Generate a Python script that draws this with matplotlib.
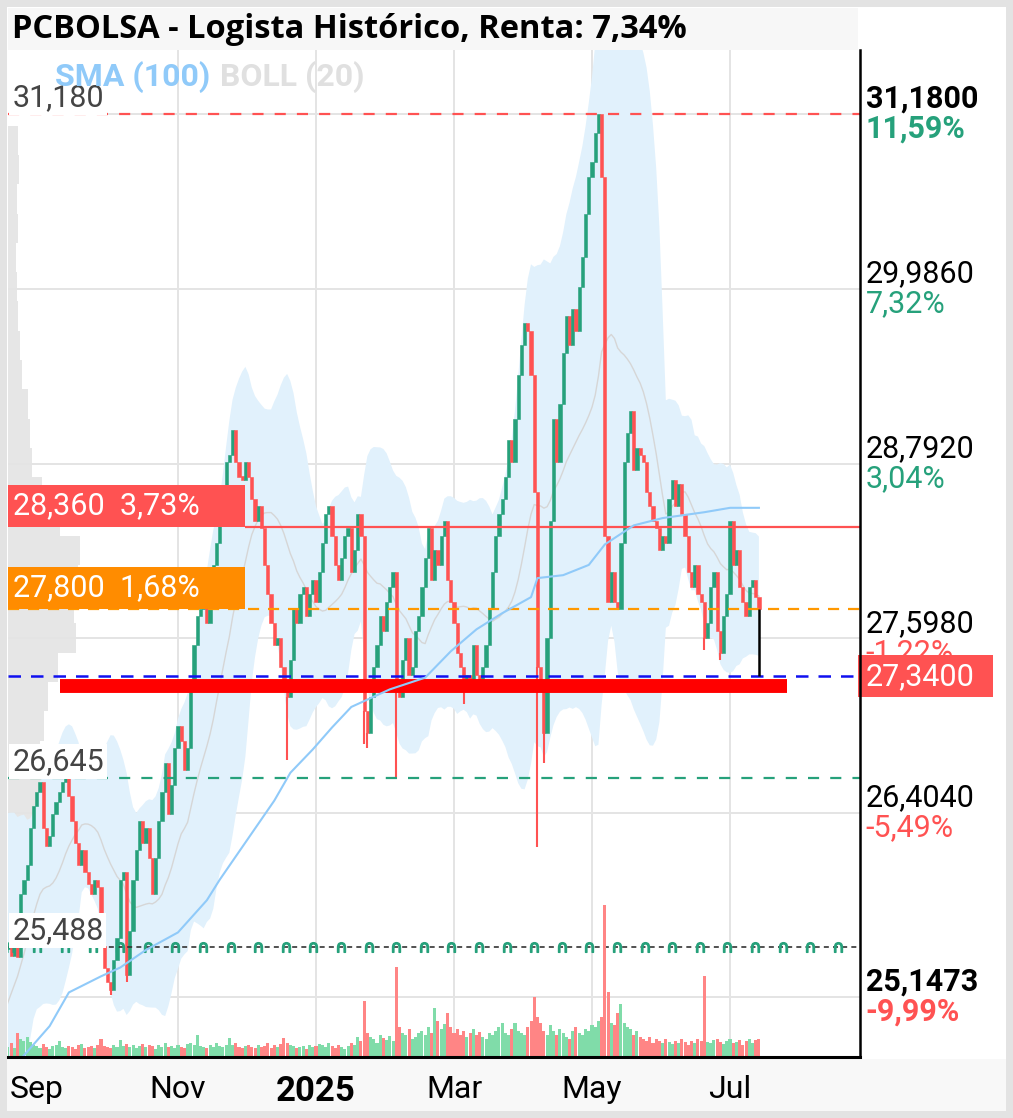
import numpy as np
import pandas as pd
import matplotlib
matplotlib.use("Agg")
import matplotlib.pyplot as plt
from matplotlib.patches import Rectangle
from matplotlib.transforms import blended_transform_factory

plt.rcParams["font.family"] = ["Roboto", "DejaVu Sans"]

W, H = 1013, 1118

title = "PCBOLSA - Logista Histórico, Renta: 7,34%"
start_day = "2024-08-19"

# daily closes (Aug 19 2024 -> Jul 14 2025)
closes = [
    25.48, 25.52, 25.43, 25.50, 25.42, 25.85, 25.95, 26.05, 26.30, 26.45,
    26.55, 26.62, 26.30, 26.18, 26.25, 26.40, 26.48, 26.55, 26.62, 26.65,
    26.52, 26.35, 26.20, 26.05, 26.15, 26.00, 25.92, 25.85, 25.95, 25.90,
    25.50, 25.35, 25.25, 25.20, 25.40, 25.55, 25.95, 26.00, 25.30, 25.60,
    25.95, 26.15, 26.35, 26.20, 26.30, 26.10, 25.85, 26.10, 26.35, 26.55,
    26.75, 26.40, 26.60, 26.85, 27.00, 26.90, 26.70, 26.85, 27.30, 27.55,
    27.75, 27.80, 27.85, 27.70, 27.95, 28.10, 28.25, 28.40, 28.60, 28.80,
    28.85, 29.02, 28.80, 28.70, 28.68, 28.80, 28.70, 28.55, 28.40, 28.50,
    28.35, 28.10, 27.90, 27.70, 27.55, 27.60, 27.40, 27.30, 27.20, 27.45,
    27.80, 27.70, 27.90, 27.95, 27.75, 27.90, 28.00, 27.85, 28.05, 28.25,
    28.45, 28.50, 28.30, 28.10, 28.00, 28.15, 28.30, 28.35, 28.05, 28.20,
    28.45, 28.30, 27.10, 26.95, 27.20, 27.40, 27.55, 27.75, 27.65, 27.85,
    27.95, 28.05, 27.30, 27.20, 27.45, 27.60, 27.35, 27.40, 27.65, 27.75,
    27.95, 28.15, 28.35, 28.00, 28.20, 28.10, 28.30, 28.40, 28.00, 27.85,
    27.70, 27.50, 27.40, 27.25, 27.35, 27.30, 27.55, 27.35, 27.25, 27.40,
    27.55, 27.80, 28.05, 28.30, 28.45, 28.55, 28.70, 28.95, 28.80, 29.10,
    29.40, 29.60, 29.75, 29.70, 29.40, 28.60, 27.40, 27.30, 26.95, 27.60,
    28.40, 29.10, 28.80, 29.20, 29.55, 29.80, 29.60, 29.85, 29.70, 30.00,
    30.20, 30.50, 30.75, 30.85, 31.05, 31.18, 30.75, 28.30, 27.85, 28.05,
    27.85, 27.80, 28.25, 28.80, 29.00, 29.15, 28.75, 28.90, 28.85, 28.80,
    28.60, 28.50, 28.40, 28.35, 28.20, 28.30, 28.25, 28.55, 28.68, 28.50,
    28.65, 28.45, 28.30, 28.05, 27.95, 28.10, 27.90, 27.85, 27.60, 27.70,
    27.95, 28.05, 27.65, 27.50, 27.75, 27.90, 28.40, 28.10, 28.20, 27.95,
    27.85, 27.75, 27.95, 28.00, 27.88, 27.80,
]
# closes before the visible window (only feed the 20 day bands)
prior_closes = [24.20, 24.25, 24.30, 24.25, 24.35, 24.40, 24.30, 24.50, 24.70, 25.00,
                25.30, 25.60, 25.90, 26.10, 26.00, 25.80, 25.60, 25.50, 25.40]
# long lower shadows
low_wicks = {33: 25.16, 38: 25.25, 88: 26.77, 112: 26.88, 113: 26.85, 122: 26.64,
             143: 27.15, 166: 26.17, 168: 26.75, 218: 27.52, 223: 27.45}

# volume, tens of thousands of shares
volumes = [
    12, 10, 14, 9, 24, 18, 16, 20, 15, 12,
    11, 9, 13, 10, 8, 11, 12, 16, 10, 9,
    11, 10, 8, 12, 13, 9, 10, 11, 9, 12,
    18, 11, 10, 9, 12, 10, 17, 11, 13, 10,
    12, 9, 11, 13, 10, 12, 11, 8, 12, 10,
    14, 10, 11, 9, 12, 10, 9, 13, 14, 12,
    22, 11, 10, 9, 12, 10, 14, 11, 10, 12,
    19, 12, 14, 10, 9, 11, 12, 10, 9, 12,
    10, 11, 14, 9, 12, 10, 13, 19, 14, 12,
    11, 9, 10, 11, 8, 12, 10, 11, 13, 12,
    10, 14, 11, 9, 12, 10, 8, 11, 14, 12,
    20, 16, 56, 24, 20, 18, 14, 22, 19, 17,
    21, 16, 90, 30, 24, 22, 28, 18, 20, 24,
    26, 22, 30, 24, 49, 36, 28, 33, 44, 30,
    24, 28, 22, 26, 20, 24, 28, 22, 25, 20,
    18, 24, 22, 26, 30, 34, 24, 22, 28, 34,
    26, 24, 22, 30, 36, 60, 40, 34, 26, 22,
    32, 26, 22, 28, 24, 20, 18, 26, 30, 24,
    22, 28, 26, 32, 30, 36, 40, 152, 65, 34,
    32, 44, 53, 34, 30, 28, 22, 26, 20, 18,
    16, 20, 14, 18, 16, 14, 18, 15, 13, 16,
    14, 18, 15, 12, 16, 14, 18, 16, 81, 15,
    14, 17, 18, 15, 13, 16, 18, 14, 15, 17,
    12, 16, 18, 14, 17, 18,
]

# SMA(100) read at sample sessions
sma_idx = [0, 6, 14, 20, 30, 36, 44, 54, 63, 67, 84, 89, 96, 102, 108, 114, 120,
           131, 139, 147, 155, 164, 166, 174, 182, 187, 196, 205, 218, 226, 235]
sma_val = [24.62, 24.75, 24.95, 25.18, 25.29, 25.35, 25.47, 25.59, 25.81, 25.95,
           26.49, 26.68, 26.84, 26.99, 27.13, 27.19, 27.25, 27.33, 27.51, 27.66,
           27.77, 27.88, 28.01, 28.03, 28.10, 28.24, 28.37, 28.42, 28.46, 28.49, 28.49]

# volume profile on the left edge
profile_price = [25.2, 25.4, 25.6, 25.8, 26.0, 26.2, 26.4, 26.6, 26.8, 27.0,
                 27.2, 27.4, 27.6, 27.8, 28.0, 28.2, 28.4, 28.6, 28.8, 29.0,
                 29.2, 29.4, 29.6, 29.8, 30.0, 30.2, 30.4, 30.6, 30.8, 31.0]
profile_vol = [6, 10, 15, 17, 20, 22, 28, 38, 32, 36,
               40, 50, 68, 66, 70, 72, 52, 34, 24, 22,
               20, 14, 12, 10, 9, 8, 10, 9, 11, 10]

right_levels = [31.18, 29.986, 28.792, 27.598, 26.404, 25.1473]
right_texts = ["31,1800", "29,9860", "28,7920", "27,5980", "26,4040", "25,1473"]
right_pcts = ["11,59%", "7,32%", "3,04%", "-1,22%", "-5,49%", "-9,99%"]
right_bold = [True, False, False, False, False, True]

month_labels = ["Sep", "Nov", "2025", "Mar", "May", "Jul"]
month_starts = ["2024-09", "2024-11", "2025-01", "2025-03", "2025-05", "2025-07"]

level_top = 31.18
level_res = 28.36
level_orange = 27.80
level_last = 27.34
level_support = 27.27
level_green = 26.645
level_div = 25.488
support_from, support_to = 17.2, 243.8

GREEN = "#26a17b"
RED = "#ff5252"

dates = pd.bdate_range(start_day, periods=len(closes))
idx = np.arange(len(closes))
c = np.array(closes)
o = np.r_[prior_closes[-1], c[:-1]]
up = c >= o

allc = pd.Series(prior_closes + closes)
mid = allc.rolling(20).mean().values[len(prior_closes):]
sd = allc.rolling(20).std(ddof=0).values[len(prior_closes):]
upper = mid + 2 * sd
lower = mid - 2 * sd

fig = plt.figure(figsize=(W / 100, H / 100), dpi=100)
fig.patch.set_facecolor("#e3e3e3")


def frect(x0, y0, x1, y1, color, z=-10):
    fig.add_artist(Rectangle((x0 / W, 1 - y1 / H), (x1 - x0) / W, (y1 - y0) / H,
                             transform=fig.transFigure, facecolor=color,
                             edgecolor="none", zorder=z))


frect(7, 7, 1006, 1111, "white")
frect(8, 8, 858, 50, "#f7f7f7")
frect(7, 1059, 1006, 1111, "#f8f8f8")
fig.text(12 / W, 1 - 29 / H, title, fontsize=23.5, fontweight="bold",
         family=["Open Sans", "DejaVu Sans"], va="center", ha="left")

xlim = (1.03, 266.5)
ylim = (24.739, 31.617)
pos = [8 / W, 1 - 1057 / H, 852 / W, 1007 / H]
ax = fig.add_axes(pos)
axp = fig.add_axes(pos)
axv = fig.add_axes(pos)
axs = fig.add_axes(pos)
axp.set_zorder(1)
ax.set_zorder(2)
axv.set_zorder(3)
axs.set_zorder(4)
for a in (ax, axp, axv, axs):
    a.patch.set_visible(False)
    for s in a.spines.values():
        s.set_visible(False)
    a.set_yticks([])
for a in (axp, axv, axs):
    a.set_xticks([])

ax.set_xlim(*xlim)
ax.set_ylim(*ylim)
axs.set_xlim(*xlim)
axs.set_ylim(*ylim)
axv.set_xlim(*xlim)
axv.set_ylim(0, 1007)
axp.set_xlim(0, 852)
axp.set_ylim(*ylim)

# volume profile
axp.barh(profile_price, profile_vol, height=0.2, color="#e6e6e6", align="center")

# grid
for lv in right_levels:
    ax.axhline(lv, color="#e4e4e4", lw=1.4, zorder=0.5)
month_idx = [int(np.argmax(dates.strftime("%Y-%m") == m)) for m in month_starts]
for mi in month_idx[1:]:
    ax.axvline(mi, color="#e4e4e4", lw=1.4, zorder=0.5)

# bollinger
ax.fill_between(idx, lower, upper, color="#e1f1fc", lw=0, zorder=1)
ax.plot(idx, mid, color="#d6d6d6", lw=1, zorder=1.5)

# candles
colors = np.where(up, GREEN, RED)
ax.bar(idx, np.maximum(np.abs(c - o), 0.025), bottom=np.minimum(o, c), width=1.0,
       color=colors, edgecolor=colors, lw=0.4, zorder=3)
for i, lo in low_wicks.items():
    ax.vlines(i, lo, min(o[i], c[i]), color=colors[i], lw=1.5, zorder=3)

# SMA
axs.plot(sma_idx, sma_val, color="#90caf9", lw=1.5)

# volume
vcol = np.where(up, "#80dca9", "#ff8585")
axv.bar(idx, volumes, width=0.95, color=vcol, lw=0)

bt = blended_transform_factory(ax.transAxes, ax.transData)

# levels
ax.axhline(level_top, color=RED, lw=1.6, ls=(0, (5, 5)), zorder=5)
ax.axhline(level_orange, color="#ff9800", lw=1.6, ls=(0, (5, 4)), zorder=5)
ax.axhline(level_green, color=GREEN, lw=1.6, ls=(0, (5, 5)), zorder=5)
ax.axhline(level_last, color="#1010f0", lw=1.8, ls=(0, (5, 4)), zorder=5)
ax.axhline(level_div, color="#333333", lw=1.2, ls=(0, (3, 2.5)), zorder=5)
div_marks = np.arange(1.6, 266, 8.6)
ax.plot(div_marks, np.full(len(div_marks), level_div), ls="none", marker="$\\cap$",
        ms=7, color=GREEN, zorder=5)
ax.hlines(level_res, 0.278, 1, transform=bt, color=RED, lw=1.6, zorder=5)
ax.hlines(level_support, support_from, support_to, color="#ff0000", lw=10, zorder=6)
ax.vlines(idx[-1], level_last, c[-1], color="black", lw=1.8, zorder=6)

# boxed levels on the left
box_h = 42 / 146.4
ax.add_patch(Rectangle((0, level_res), 0.278, box_h, transform=bt, color=RED, lw=0, zorder=7))
ax.add_patch(Rectangle((0, level_orange), 0.278, box_h, transform=bt, color="#ff8c00",
                       lw=0, zorder=7))
ax.text(0.006, level_res + box_h / 2, "28,360  3,73%", transform=bt, color="white",
        fontsize=22, va="center", zorder=8)
ax.text(0.006, level_orange + box_h / 2, "27,800  1,68%", transform=bt, color="white",
        fontsize=22, va="center", zorder=8)

for lv, txt in [(level_top, "31,180"), (level_green, "26,645"), (level_div, "25,488")]:
    ax.annotate(txt, xy=(0, lv), xycoords=bt, xytext=(3, 12), textcoords="offset points",
                fontsize=22, color="#444444", va="center", zorder=8,
                bbox=dict(boxstyle="square,pad=0.1", fc="white", ec="none"))

# legend
ax.text(0.055, 0.973, "SMA (100)", transform=ax.transAxes, color="#90caf9", fontsize=23,
        fontweight="bold", va="center", zorder=9)
ax.text(0.249, 0.973, "BOLL (20)", transform=ax.transAxes, color="#e0e0e0", fontsize=23,
        fontweight="bold", va="center", zorder=9)

# right scale
for lv, txt, pct, b in zip(right_levels, right_texts, right_pcts, right_bold):
    w = "bold" if b else "normal"
    pc = GREEN if not pct.startswith("-") else RED
    ax.annotate(txt, xy=(1, lv), xycoords=bt, xytext=(4, 11), textcoords="offset points",
                fontsize=22, fontweight=w, color="black", va="center", annotation_clip=False)
    ax.annotate(pct, xy=(1, lv), xycoords=bt, xytext=(4, -10.5), textcoords="offset points",
                fontsize=22, fontweight=w, color=pc, va="center", annotation_clip=False)

ax.add_patch(Rectangle((0.9977, level_last - box_h / 2), 0.1588, box_h, transform=bt,
                       color=RED, lw=0, zorder=10, clip_on=False))
ax.annotate("27,3400", xy=(1, level_last), xycoords=bt, xytext=(4, 0),
            textcoords="offset points", fontsize=22, color="white", va="center",
            annotation_clip=False, zorder=11)

# axes frame
axs.spines["right"].set_visible(True)
axs.spines["bottom"].set_visible(True)
axs.spines["right"].set_linewidth(1.8)
axs.spines["bottom"].set_linewidth(2.2)
axs.spines["right"].set_color("black")
axs.spines["bottom"].set_color("black")

ax.set_xticks(month_idx)
ax.set_xticklabels(month_labels)
ax.tick_params(axis="x", length=0, pad=13, labelsize=23)
ax.get_xticklabels()[2].set_fontweight("bold")
ax.get_xticklabels()[2].set_fontsize(25)

fig.savefig("out.png", dpi=100, facecolor=fig.get_facecolor())
